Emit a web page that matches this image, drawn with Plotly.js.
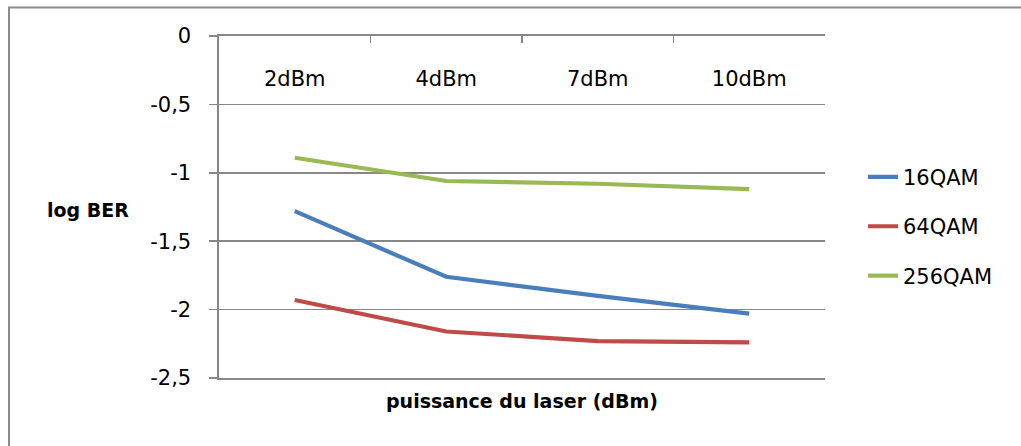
<!DOCTYPE html>
<html>
<head>
<meta charset="utf-8">
<script src="https://cdn.plot.ly/plotly-3.0.1.min.js"></script>
<style>html,body{margin:0;padding:0;background:#fff;}#chart{width:1021px;height:446px;}</style>
</head>
<body>
<div id="chart"></div>
<script>
const categories = ['2dBm', '4dBm', '7dBm', '10dBm'];
const qam16 = [-1.28, -1.76, -1.90, -2.03];
const qam64 = [-1.93, -2.16, -2.23, -2.24];
const qam256 = [-0.89, -1.06, -1.08, -1.12];
const yTickVals = [0, -0.5, -1, -1.5, -2, -2.5];
const yTickText = ['0', '-0,5', '-1', '-1,5', '-2', '-2,5'];
const seriesNames = ['16QAM', '64QAM', '256QAM'];

const W = 1021, H = 446;
const L = 219, R = 825, T = 36, B = 378.5;
const pw = R - L, ph = B - T;
const px = v => (v - L) / pw;
const py = v => 1 - (v - T) / ph;

const FONT = 'DejaVu Sans';
const gridCol = '#878787';

const traces = [
  {x: categories, y: qam16, name: seriesNames[0], color: '#4A7EBB', g: 'a'},
  {x: categories, y: qam64, name: seriesNames[1], color: '#BE4B48', g: 'b'},
  {x: categories, y: qam256, name: seriesNames[2], color: '#98B954', g: 'c'}
].map(s => ({
  type: 'scatter', mode: 'lines', x: s.x, y: s.y, name: s.name,
  legendgroup: s.g,
  line: {color: s.color, width: 4.2}
}));

// label-only companion axis (category positions 0..3) so the category names sit below the top axis line
traces.push({
  type: 'scatter', mode: 'lines', x: categories.map((c, i) => i), y: qam16,
  xaxis: 'x2', yaxis: 'y', showlegend: false, hoverinfo: 'skip', opacity: 0,
  line: {width: 0}
});

const layout = {
  width: W, height: H,
  margin: {l: L, r: W - R, t: T, b: H - B, pad: 0},
  paper_bgcolor: '#ffffff', plot_bgcolor: '#ffffff',
  font: {family: FONT, size: 21, color: '#000'},
  showlegend: true,
  legend: {
    x: px(863), xanchor: 'left', y: py(157), yanchor: 'top',
    font: {family: FONT, size: 21, color: '#000'},
    tracegroupgap: 19, bgcolor: 'rgba(0,0,0,0)', borderwidth: 0
  },
  xaxis: {
    type: 'category', side: 'top',
    showline: true, linecolor: gridCol, linewidth: 1.6, mirror: true,
    showgrid: false, zeroline: false,
    ticks: 'inside', tickson: 'boundaries', ticklen: 7, tickcolor: gridCol, tickwidth: 1.6,
    showticklabels: false,
    range: [-0.5, 3.5], fixedrange: true
  },
  xaxis2: {
    overlaying: 'x', anchor: 'free', position: py(64), side: 'bottom',
    type: 'linear', range: [-0.5, 3.5],
    tickmode: 'array', tickvals: [0, 1, 2, 3], ticktext: categories,
    showline: false, showgrid: false, zeroline: false, ticks: '',
    tickfont: {family: FONT, size: 21, color: '#000'},
    fixedrange: true
  },
  yaxis: {
    range: [-2.5, 0],
    tickvals: yTickVals, ticktext: yTickText,
    showline: true, linecolor: gridCol, linewidth: 1.6,
    showgrid: true, gridcolor: gridCol, gridwidth: 1.6, zeroline: false,
    ticks: 'outside', ticklen: 8, tickcolor: gridCol, tickwidth: 1.6,
    ticklabelstandoff: 14,
    tickfont: {family: FONT, size: 21, color: '#000'},
    fixedrange: true
  },
  annotations: [
    {text: '<b>log BER</b>', xref: 'paper', yref: 'paper', x: px(87.5), y: py(210),
     xanchor: 'center', yanchor: 'middle', showarrow: false,
     font: {family: FONT, size: 19, color: '#000'}},
    {text: '<b>puissance du laser (dBm)</b>', xref: 'paper', yref: 'paper', x: px(521.5), y: py(402),
     xanchor: 'center', yanchor: 'middle', showarrow: false,
     font: {family: FONT, size: 19, color: '#000'}}
  ],
  shapes: [
    {type: 'rect', xref: 'paper', yref: 'paper', x0: px(9), x1: px(1060), y0: py(7.5), y1: py(480),
     line: {color: '#8a8a8a', width: 2}, fillcolor: 'rgba(0,0,0,0)', layer: 'below'}
  ]
};

Plotly.newPlot('chart', traces, layout, {displayModeBar: false, staticPlot: true});
</script>
</body>
</html>
